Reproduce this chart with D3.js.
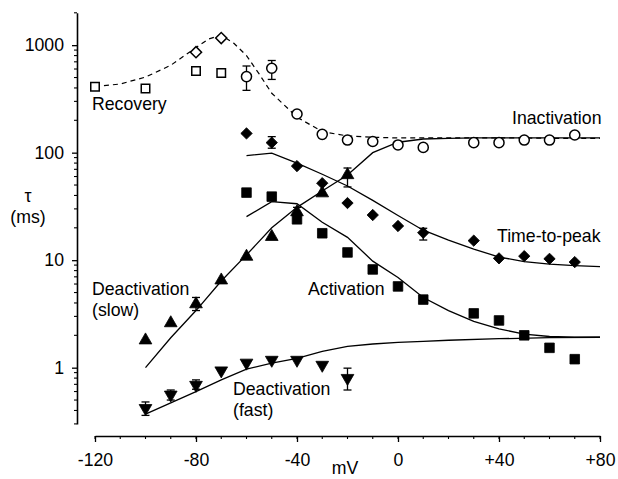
<!DOCTYPE html>
<html>
<head>
<meta charset="utf-8">
<script src="https://cdn.jsdelivr.net/npm/d3@7"></script>
<style>
  body { margin: 0; background: #fff; }
  svg { display: block; }
  text { font-family: "Liberation Sans", Arial, Helvetica, sans-serif; fill: #000; }
</style>
</head>
<body>
<svg id="chart" width="618" height="479"></svg>
<script>
// ---- Measured time constants (mV, ms) ----
const recoveryV = [-120, -100, -80, -70];
const recoveryTau = [410, 395, 575, 550];
const recoveryPeakV = [-80, -70];
const recoveryPeakTau = [860, 1165];

const inactivationV = [-60, -50, -40, -30, -20, -10, 0, 10, 30, 40, 50, 60, 70];
const inactivationTau = [510, 610, 229, 148, 131, 127, 118, 112, 124, 124, 131, 131, 146];
const inactivationErr = [[-60, 380, 640], [-50, 480, 720]];

const timeToPeakV = [-60, -50, -40, -30, -20, -10, 0, 10, 30, 40, 50, 60, 70];
const timeToPeakTau = [151, 124, 75, 52, 34, 26.3, 20.8, 18, 15.2, 10.4, 10.9, 10.3, 9.6];
const timeToPeakErr = [[-50, 110, 141], [10, 15.4, 19.8]];

const activationV = [-60, -50, -40, -30, -20, -10, 0, 10, 30, 40, 50, 60, 70];
const activationTau = [42.5, 39, 24, 17.8, 11.8, 8.2, 5.7, 4.3, 3.2, 2.75, 2.0, 1.53, 1.2];

const slowV = [-100, -90, -80, -70, -60, -50, -40, -30, -20];
const slowTau = [1.8, 2.6, 3.9, 6.5, 10.8, 16.5, 28, 42, 62];
const slowErr = [[-80, 3.4, 4.5], [-40, 25, 31], [-20, 48, 72]];

const fastV = [-100, -90, -80, -70, -60, -50, -40, -30, -20];
const fastTau = [0.42, 0.56, 0.69, 0.94, 1.11, 1.18, 1.18, 1.06, 0.80];
const fastErr = [[-100, 0.36, 0.48], [-90, 0.5, 0.62], [-80, 0.63, 0.77], [-20, 0.62, 0.99]];

// ---- Model fits ----
const recoveryFitV = [-120, -110, -100, -90, -80, -75, -70, -65, -60, -55, -50, -40, -30, -20, -10, 0, 10, 20, 30, 40, 50, 60, 70, 80];
const recoveryFitTau = [412, 435, 505, 650, 950, 1140, 1240, 1040, 800, 540, 357, 214, 157, 143, 139, 137, 137, 137, 137, 137, 137, 136, 136, 136];

const slowFitV = [-100, -90, -80, -70, -60, -50, -40, -30, -20, -10, 0, 10, 20, 30, 40, 50, 60, 70, 80];
const slowFitTau = [1.0, 1.9, 3.4, 6.4, 11.2, 20, 31, 44, 62, 100, 125, 134, 136, 137, 137, 137, 137, 137, 137];

const timeToPeakFitV = [-60, -50, -40, -30, -20, -10, 0, 10, 20, 30, 40, 50, 60, 70, 80];
const timeToPeakFitTau = [94, 99, 80, 63, 49, 36, 26, 19, 15.4, 12.7, 10.7, 9.7, 9.2, 8.9, 8.7];

const activationFitV = [-60, -50, -40, -30, -20, -10, 0, 10, 20, 30, 40, 50, 60, 70, 80];
const activationFitTau = [25.4, 35, 33.5, 22.5, 16.3, 9.8, 6.9, 4.5, 3.4, 2.7, 2.3, 2.05, 1.95, 1.92, 1.92];

const fastFitV = [-100, -90, -80, -70, -60, -50, -40, -30, -20, -10, 0, 10, 20, 40, 60, 80];
const fastFitTau = [0.37, 0.47, 0.6, 0.77, 0.97, 1.1, 1.22, 1.42, 1.58, 1.66, 1.72, 1.76, 1.8, 1.86, 1.9, 1.92];

// ---- Axis ticks ----
const xMajorTicks = [-120, -80, -40, 0, 40, 80];
const xMinorTicks = d3.range(-120, 81, 10);
const yMajorTicks = [1, 10, 100, 1000];
const yMinorTicks = [0.3, 0.4, 0.5, 0.6, 0.7, 0.8, 0.9,
                     2, 3, 4, 5, 6, 7, 8, 9,
                     20, 30, 40, 50, 60, 70, 80, 90,
                     200, 300, 400, 500, 600, 700, 800, 900, 2000];

// ---- Series labels ----
const labels = [
  { lines: ["Recovery"], x: 92, y: 110 },
  { lines: ["Inactivation"], x: 512, y: 124 },
  { lines: ["Time-to-peak"], x: 497, y: 242 },
  { lines: ["Activation"], x: 308, y: 295 },
  { lines: ["Deactivation", "(slow)"], x: 92, y: 295 },
  { lines: ["Deactivation", "(fast)"], x: 233, y: 395 }
];

const svg = d3.select("#chart");
const FONT = 17.7;

const x = d3.scaleLinear().domain([-120, 80]).range([95, 600]);
const y = d3.scaleLog().domain([0.3, 2000]).range([423.9, 12.8]);

const yAxisX = 77;
const xAxisY = 436;

// y axis (log)
const yAxis = svg.append("g").attr("transform", `translate(${yAxisX},0)`)
  .call(d3.axisLeft(y).tickValues(yMajorTicks).tickFormat(d3.format("d"))
    .tickSize(5).tickSizeOuter(0).tickPadding(8));
yAxis.selectAll(".tick text").style("font-size", FONT + "px")
  .style("font-family", "'Liberation Sans', Arial, sans-serif");
yAxis.select(".domain").attr("stroke-width", 1.6);
yAxis.selectAll(".tick line").attr("stroke-width", 1.3);
yAxis.append("g").selectAll("line").data(yMinorTicks).join("line")
  .attr("x1", 0).attr("x2", -3)
  .attr("y1", d => y(d)).attr("y2", d => y(d))
  .attr("stroke", "#000").attr("stroke-width", 1.1);

// x axis
const fmtX = d => (d > 0 ? "+" + d : String(d));
const xAxis = svg.append("g").attr("transform", `translate(0,${xAxisY})`)
  .call(d3.axisBottom(x).tickValues(xMajorTicks).tickFormat(fmtX)
    .tickSize(6).tickSizeOuter(0).tickPadding(11));
xAxis.selectAll(".tick text").style("font-size", FONT + "px")
  .style("font-family", "'Liberation Sans', Arial, sans-serif");
xAxis.select(".domain").attr("stroke-width", 1.6);
xAxis.selectAll(".tick line").attr("stroke-width", 1.3);
xAxis.append("g").selectAll("line").data(xMinorTicks).join("line")
  .attr("x1", d => x(d)).attr("x2", d => x(d))
  .attr("y1", 0).attr("y2", 3)
  .attr("stroke", "#000").attr("stroke-width", 1.1);

// axis titles
svg.append("text").attr("x", 28).attr("y", 202).attr("text-anchor", "middle")
  .style("font-size", FONT + "px").text("τ");
svg.append("text").attr("x", 28).attr("y", 223).attr("text-anchor", "middle")
  .style("font-size", FONT + "px").text("(ms)");
svg.append("text").attr("x", 345).attr("y", 474).attr("text-anchor", "middle")
  .style("font-size", FONT + "px").text("mV");

// fit curves
const line = d3.line().x(d => x(d[0])).y(d => y(d[1]));
const zip = (a, b) => a.map((v, i) => [v, b[i]]);

const plot = svg.append("g");
plot.append("path").datum(zip(recoveryFitV, recoveryFitTau))
  .attr("d", line).attr("fill", "none").attr("stroke", "#000")
  .attr("stroke-width", 1.2).attr("stroke-dasharray", "5,4");
[[slowFitV, slowFitTau], [timeToPeakFitV, timeToPeakFitTau],
 [activationFitV, activationFitTau], [fastFitV, fastFitTau]].forEach(([v, t]) => {
  plot.append("path").datum(zip(v, t))
    .attr("d", line).attr("fill", "none").attr("stroke", "#000")
    .attr("stroke-width", 1.3);
});

// error bars
function errorBars(rows) {
  const g = plot.append("g").attr("stroke", "#000").attr("stroke-width", 1.3);
  rows.forEach(([v, lo, hi]) => {
    const cx = x(v);
    g.append("line").attr("x1", cx).attr("x2", cx).attr("y1", y(lo)).attr("y2", y(hi));
    g.append("line").attr("x1", cx - 4).attr("x2", cx + 4).attr("y1", y(lo)).attr("y2", y(lo));
    g.append("line").attr("x1", cx - 4).attr("x2", cx + 4).attr("y1", y(hi)).attr("y2", y(hi));
  });
}
errorBars(inactivationErr);
errorBars(timeToPeakErr);
errorBars(slowErr);
errorBars(fastErr);

// markers
function markers(vs, taus, type, size, rotate, filled) {
  const sym = d3.symbol().type(type).size(size);
  plot.append("g").selectAll("path").data(zip(vs, taus)).join("path")
    .attr("d", sym)
    .attr("transform", d => `translate(${x(d[0])},${y(d[1])}) rotate(${rotate})`)
    .attr("fill", filled ? "#000" : "#fff")
    .attr("stroke", "#000")
    .attr("stroke-width", filled ? 0.8 : 1.5);
}
markers(recoveryV, recoveryTau, d3.symbolSquare, 72, 0, false);
markers(recoveryPeakV, recoveryPeakTau, d3.symbolSquare, 62, 45, false);
markers(inactivationV, inactivationTau, d3.symbolCircle, 80, 0, false);
markers(timeToPeakV, timeToPeakTau, d3.symbolSquare, 64, 45, true);
markers(activationV, activationTau, d3.symbolSquare, 92, 0, true);
markers(slowV, slowTau, d3.symbolTriangle, 70, 0, true);
markers(fastV, fastTau, d3.symbolTriangle, 70, 180, true);

// series labels
labels.forEach(l => {
  const t = svg.append("text").attr("x", l.x).attr("y", l.y).style("font-size", FONT + "px");
  l.lines.forEach((s, i) => {
    t.append("tspan").attr("x", l.x).attr("dy", i === 0 ? 0 : 21).text(s);
  });
});
</script>
</body>
</html>
